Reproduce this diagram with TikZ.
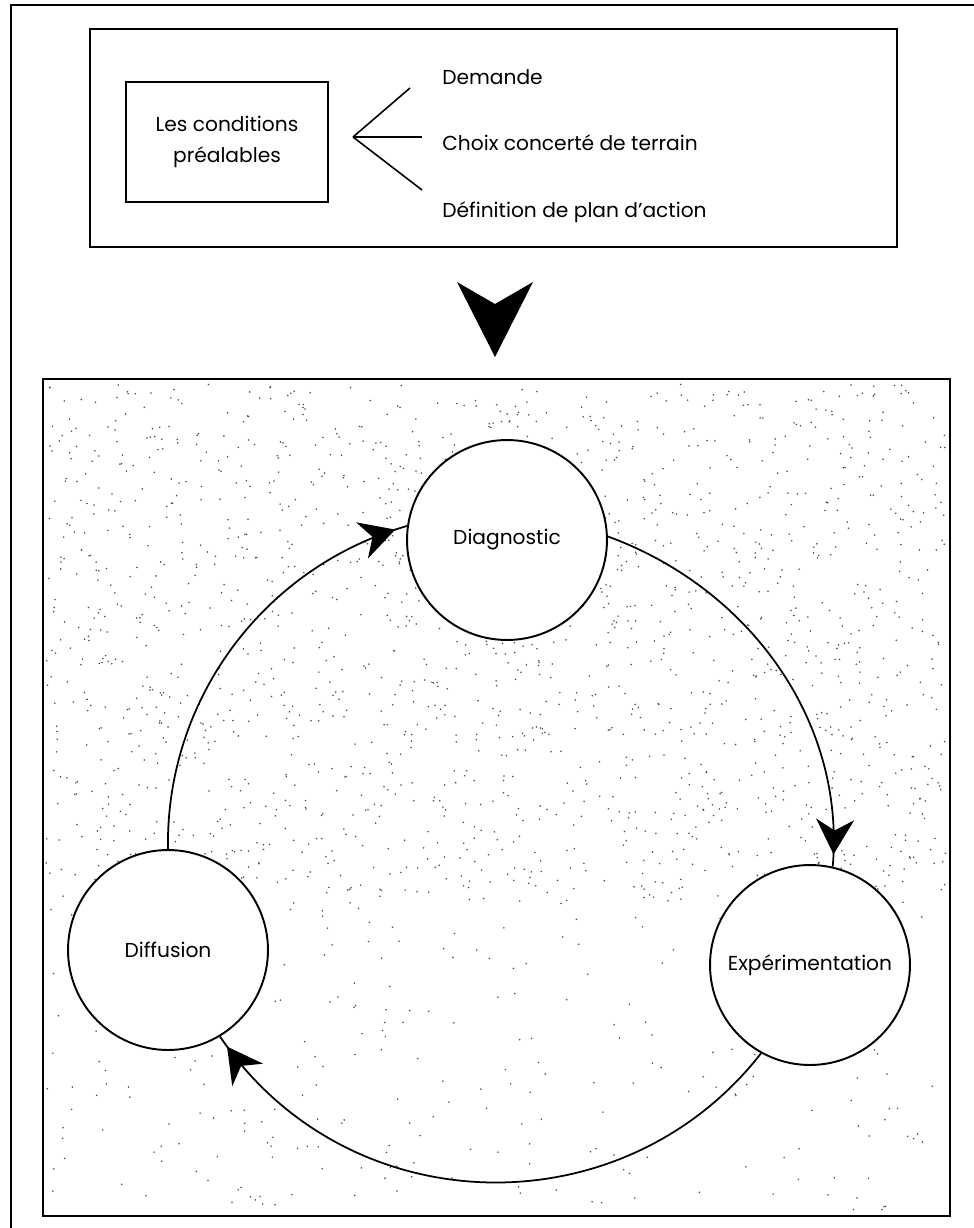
\documentclass[tikz,border=0pt]{standalone}
\usepackage{fontspec}
\setmainfont{Poppins}
\usetikzlibrary{arrows.meta,decorations.markings}
\begin{document}
\begin{tikzpicture}[x=0.02cm,y=0.02cm,
  txt/.style={font=\fontsize{11.5}{15}\selectfont, inner sep=0pt},
  boxline/.style={line width=1.1pt},
  stage/.style={circle, draw, fill=white, line width=1.1pt, minimum size=4cm,
    inner sep=0pt, font=\fontsize{11.5}{14}\selectfont},
  link/.style={line width=1pt, postaction={decorate},
    decoration={markings, mark=at position -7pt with
      {\arrow{Stealth[length=19.9pt, width=21.6pt, inset=6.3pt]}}}},
  branch/.style={line width=0.9pt},
  speck/.style={fill=black!70},
]
\useasboundingbox (0,0) rectangle (974,-1228);

% outer frame
\draw[boxline] (11,-1228) -- (11,-5) -- (974,-5);

% prerequisites panel
\draw[boxline] (90,-29) rectangle (897,-247);
\node[draw, boxline, minimum width=4.04cm, minimum height=2.4cm, align=center, txt]
  (cond) at (227,-142) {Les conditions\\[3pt]préalables};
\coordinate (fork) at (353,-137);
\coordinate (b1) at (410,-88);
\coordinate (b2) at (422,-137);
\coordinate (b3) at (422,-190);
\draw[branch] (fork) -- (b1);
\draw[branch] (fork) -- (b2);
\draw[branch] (fork) -- (b3);
\node[txt, anchor=west] (dem) at (442,-77) {Demande};
\node[txt, anchor=west] (choix) at (442,-143) {Choix concerté de terrain};
\node[txt, anchor=west] (def) at (442,-212) {Définition de plan d'action};

% big downward arrow
\fill (457,-282) -- (495,-304) -- (533,-282) -- (495,-357) -- cycle;

% cycle panel with stippled ground
\pgfmathsetseed{1234}
\foreach \k in {1,...,1800}{
  \fill[speck] ({46+900*rnd},{-384-520*rnd}) circle[radius=0.5pt];
}
\foreach \k in {1,...,250}{
  \fill[speck] ({46+900*rnd},{-904-306*rnd}) circle[radius=0.5pt];
}
\draw[boxline] (43,-379) rectangle (950,-1216);

\node[stage] (diag) at (507,-540) {Diagnostic};
\node[stage] (exp) at (810,-965) {Expérimentation};
\node[stage] (dif) at (168,-950) {Diffusion};

% cycle connectors
\draw[link] (dif.90) to[out=91,in=196,looseness=0.95] (diag.172);
\draw[link] (diag.2) to[out=-20,in=85,looseness=0.95] (exp.77);
\draw[link] (exp.241) to[out=232,in=-56,looseness=1.07] (dif.-59);
\end{tikzpicture}
\end{document}
